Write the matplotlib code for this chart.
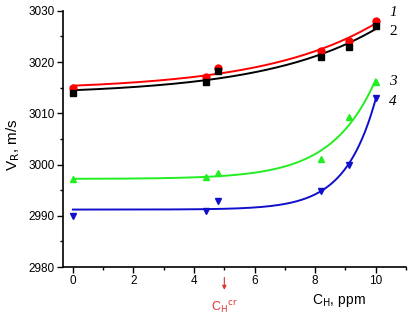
import numpy as np
import matplotlib
matplotlib.use("Agg")
import matplotlib.pyplot as plt
from matplotlib.ticker import MultipleLocator

# ---- data ----
x_ppm = [0, 4.4, 4.8, 8.2, 9.1, 10]
v1 = [3015.0, 3017.1, 3018.9, 3022.2, 3024.1, 3028.1]   # red circles
v2 = [3014.0, 3016.2, 3018.2, 3021.0, 3023.0, 3027.1]   # black squares
v3 = [2997.1, 2997.6, 2998.3, 3001.1, 3009.2, 3016.2]   # green up triangles
v4 = [2990.0, 2991.0, 2992.9, 2994.9, 2999.9, 3012.9]   # blue down triangles
series_labels = ["1", "2", "3", "4"]
c_crit = 5.0

plt.rcParams['font.family'] = ['Liberation Sans', 'DejaVu Sans']

def fit_exp(x, y):
    """least squares fit y = a + b*exp(x/t) (grid over t)."""
    x = np.asarray(x, float); y = np.asarray(y, float)
    best = None
    for t in np.linspace(0.5, 15, 600):
        A = np.column_stack([np.ones_like(x), np.exp(x / t)])
        coef, *_ = np.linalg.lstsq(A, y, rcond=None)
        r = np.sum((A @ coef - y) ** 2)
        if best is None or r < best[0]:
            best = (r, coef, t)
    _, (a, b), t = best
    return lambda xx: a + b * np.exp(xx / t)

fig = plt.figure(figsize=(4.11, 3.19), dpi=100)
ax = fig.add_axes([0.153, 0.163, 0.835, 0.803])

styles = [
    (v1, '#ff0000', 'o', 5.0),
    (v2, '#000000', 's', 4.5),
    (v3, '#22ee22', '^', 5.0),
    (v4, '#1010cc', 'v', 5.0),
]
xs = np.linspace(0, 10, 200)
for vals, col, mk, ms in styles:
    f = fit_exp(x_ppm, vals)
    ax.plot(xs, f(xs), color=col, lw=1.4, zorder=2)
for vals, col, mk, ms in styles:
    ax.plot(x_ppm, vals, linestyle='none', marker=mk, color=col, ms=ms, zorder=3)

# series numbers
label_y = [3029.6, 3026.0, 3016.3, 3012.4]
for lab, yy, it in zip(series_labels, label_y, ['italic', 'normal', 'italic', 'italic']):
    ax.text(10.45, yy, lab, family=['Liberation Serif'], style=it, fontsize=11,
            ha='left', va='center', clip_on=False)

ax.set_xlim(-0.33, 11.0)
ax.set_ylim(2980, 3030)
ax.xaxis.set_major_locator(MultipleLocator(2))
ax.xaxis.set_minor_locator(MultipleLocator(1))
ax.yaxis.set_major_locator(MultipleLocator(10))
ax.yaxis.set_minor_locator(MultipleLocator(5))
ax.tick_params(which='major', direction='out', length=4, width=1, labelsize=8.5, pad=2)
ax.tick_params(which='minor', direction='out', length=2, width=1)
ax.spines['top'].set_visible(False)
ax.spines['right'].set_visible(False)
for s in ('left', 'bottom'):
    ax.spines[s].set_linewidth(1.2)

ax.set_ylabel(r"V$_{\rm R}$, m/s", fontsize=11)
ax.yaxis.set_label_coords(-0.12, 0.477)
ax.text(8.77, -0.13, r"C$_{\rm H}$, ppm", transform=ax.get_xaxis_transform(),
        fontsize=10, ha='center', va='center')

# critical concentration marker
ax.annotate('', xy=(c_crit, -0.10), xytext=(c_crit, -0.03),
            xycoords=ax.get_xaxis_transform(), textcoords=ax.get_xaxis_transform(),
            arrowprops=dict(arrowstyle='-|>', color='#e03030', lw=0.8,
                            mutation_scale=6), annotation_clip=False)
ax.text(c_crit, -0.155, r"C$_{\rm H}$$^{\rm cr}$", transform=ax.get_xaxis_transform(),
        fontsize=9, color='#e03030', ha='center', va='center')

fig.savefig('out.png', dpi=100)
